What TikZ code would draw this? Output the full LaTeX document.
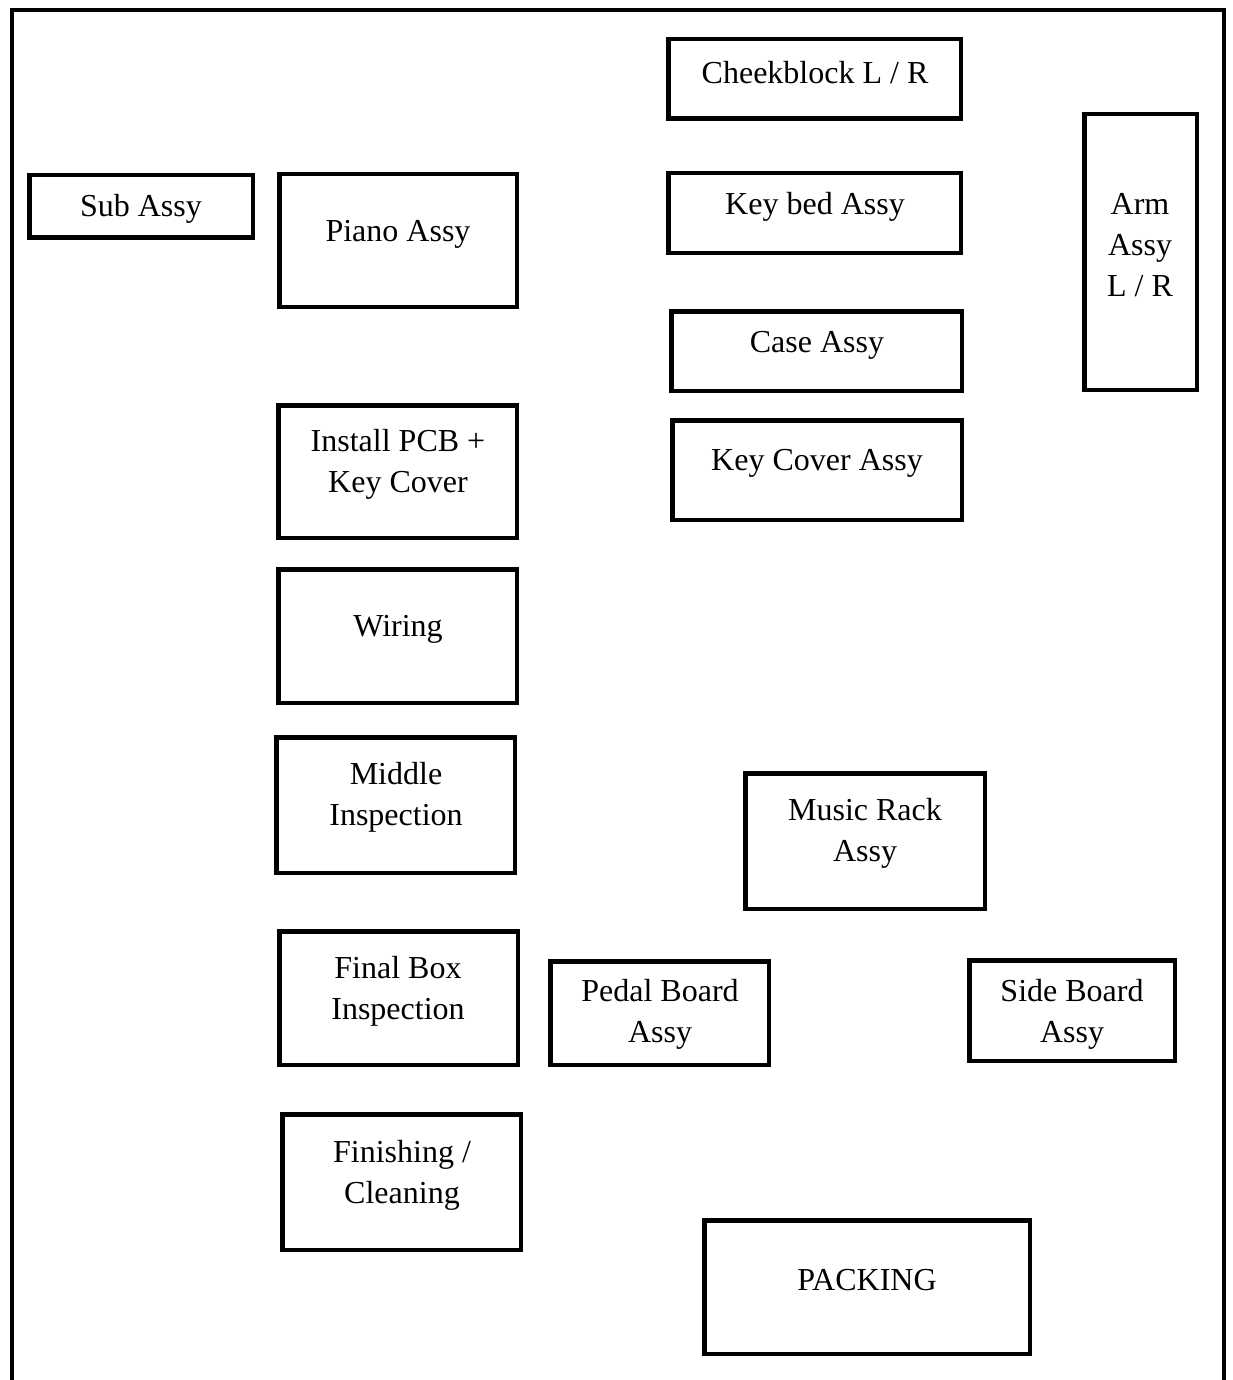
\documentclass[tikz,border=0pt]{standalone}
\usepackage{fontspec}
\setmainfont{Liberation Serif}
\begin{document}
\begin{tikzpicture}[x=1pt,y=-1pt,
  area/.style={draw=black,line width=4.5pt,inner sep=0pt,anchor=north west},
  lbl/.style={align=center,font=\fontsize{32}{41}\selectfont,inner sep=0pt,yshift=-3pt}]
\useasboundingbox (0,0) rectangle (1232,1380);
% hall outline (open at the bottom)
\draw[line width=4pt] (12,1380) -- (12,10) -- (1224,10) -- (1224,1380);

% work areas: outer corner (x,y), outer size w x h
% (the anchor sits on the outer edge of the border because of outer sep)
\newcommand{\area}[5]{%
  \pgfmathsetmacro{\aw}{#3-4.5}\pgfmathsetmacro{\ah}{#4-4.5}%
  \node[area,minimum width=\aw pt,minimum height=\ah pt] (#5) at (#1,#2) {};}
\area{27}{173}{228}{67}{sub}
\area{277}{172}{242}{137}{piano}
\area{666}{37}{297}{84}{cheek}
\area{666}{171}{297}{84}{keybed}
\area{669}{309}{295}{84}{case}
\area{670}{418}{294}{104}{keycover}
\area{1082}{112}{117}{280}{arm}
\area{276}{403}{243}{137}{pcb}
\area{276}{567}{243}{138}{wiring}
\area{274}{735}{243}{140}{middle}
\area{743}{771}{244}{140}{music}
\area{277}{929}{243}{138}{final}
\area{548}{959}{223}{108}{pedal}
\area{967}{958}{210}{105}{side}
\area{280}{1112}{243}{140}{finish}
\area{702}{1218}{330}{138}{packing}

% labels
\node[lbl] (subT)      at (141,206)  {Sub Assy};
\node[lbl] (pianoT)    at (398,231)  {Piano Assy};
\node[lbl] (cheekT)    at (815,70)   {Cheekblock L / R};
\node[lbl] (keybedT)   at (815,204)  {Key bed Assy};
\node[lbl] (caseT)     at (817,342)  {Case Assy};
\node[lbl] (keycoverT) at (817,460)  {Key Cover Assy};
\node[lbl] (armT)      at (1140,242) {Arm\\Assy\\L / R};
\node[lbl] (pcbT)      at (398,461)  {Install PCB +\\Key Cover};
\node[lbl] (wiringT)   at (398,626)  {Wiring};
\node[lbl] (middleT)   at (396,794)  {Middle\\Inspection};
\node[lbl] (musicT)    at (865,830)  {Music Rack\\Assy};
\node[lbl] (finalT)    at (398,988)  {Final Box\\Inspection};
\node[lbl] (pedalT)    at (660,1011) {Pedal Board\\Assy};
\node[lbl] (sideT)     at (1072,1011){Side Board\\Assy};
\node[lbl] (finishT)   at (402,1172) {Finishing /\\Cleaning};
\node[lbl] (packingT)  at (867,1277) {PACKING};
\end{tikzpicture}
\end{document}
